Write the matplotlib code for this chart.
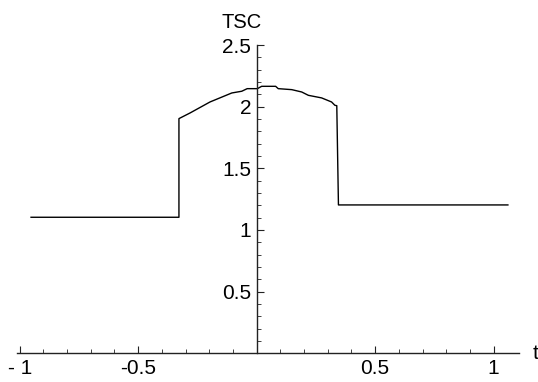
import matplotlib
matplotlib.use("Agg")
import matplotlib.pyplot as plt
from matplotlib.ticker import FixedLocator
import numpy as np

# values
t_vals = [-0.952, -0.328, -0.328, -0.281, -0.197, -0.105, -0.063, -0.040, 0.003,
          0.021, 0.080, 0.091, 0.148, 0.190, 0.218, 0.274, 0.316, 0.330, 0.338,
          0.345, 1.060]
tsc_vals = [1.103, 1.103, 1.903, 1.949, 2.038, 2.111, 2.125, 2.146, 2.146,
            2.165, 2.165, 2.146, 2.138, 2.119, 2.092, 2.071, 2.038, 2.011, 2.008,
            1.203, 1.203]
x_ticks = [-1, -0.5, 0.5, 1]
x_tick_labels = ["- 1", "-0.5", "0.5", "1"]
y_ticks = [0.5, 1, 1.5, 2, 2.5]
y_tick_labels = ["0.5", "1", "1.5", "2", "2.5"]

plt.rcParams['font.family'] = ['Liberation Sans', 'DejaVu Sans']

fig = plt.figure(figsize=(5.38, 3.82), dpi=100)
ax = fig.add_axes([0, 0, 1, 1])
ax.set_xlim(-1.083, 1.187)
ax.set_ylim(-0.233, 2.865)

ax.plot(t_vals, tsc_vals, color="black", lw=1.0)

for s in ["top", "right"]:
    ax.spines[s].set_visible(False)
ax.spines["left"].set_position(("data", 0))
ax.spines["bottom"].set_position(("data", 0))
ax.spines["left"].set_bounds(0, 2.5)
ax.spines["bottom"].set_bounds(-1.01, 1.108)
for s in ["left", "bottom"]:
    ax.spines[s].set_linewidth(1.0)
    ax.spines[s].set_color("#222222")

ax.set_xticks(x_ticks)
ax.set_xticklabels(x_tick_labels)
ax.set_yticks(y_ticks)
ax.set_yticklabels(y_tick_labels)
# minor ticks only along the drawn axis lines
ax.xaxis.set_minor_locator(FixedLocator(np.round(np.arange(-0.9, 1.05, 0.1), 2)))
ax.yaxis.set_minor_locator(FixedLocator(np.round(np.arange(0.1, 2.45, 0.1), 2)))
ax.tick_params(which="major", direction="in", length=5, width=0.8, color="#222222",
               labelsize=15, pad=4)
ax.tick_params(which="minor", direction="in", length=3, width=0.6, color="#222222")
ax.patch.set_visible(False)

ax.text(-0.065, 2.68, "TSC", fontsize=14.5, ha="center", va="center")
ax.text(1.165, 0.0, "t", fontsize=15, ha="left", va="center")

fig.savefig("out.png", dpi=100)
